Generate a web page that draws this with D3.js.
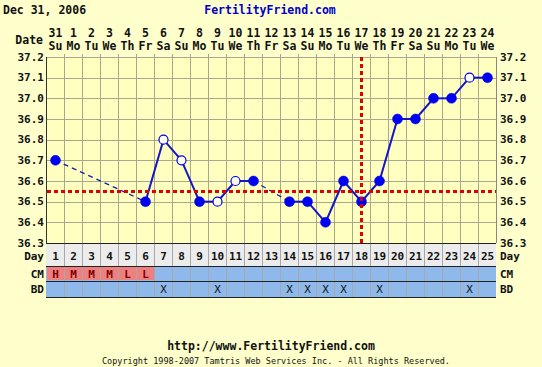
<!DOCTYPE html>
<html>
<head>
<meta charset="utf-8">
<script src="https://cdn.jsdelivr.net/npm/d3@7"></script>
<style>
  body { margin: 0; background: #ffffcc; }
  svg { display: block; font-family: "DejaVu Sans Mono", monospace; font-weight: bold; }
</style>
</head>
<body>
<div id="chart-area"></div>
<script>
// chart data
const days = [1, 2, 3, 4, 5, 6, 7, 8, 9, 10, 11, 12, 13, 14, 15, 16, 17, 18, 19, 20, 21, 22, 23, 24, 25];
const dates = ['31', '1', '2', '3', '4', '5', '6', '7', '8', '9', '10', '11', '12', '13', '14', '15', '16', '17', '18', '19', '20', '21', '22', '23', '24'];
const weekdays = ['Su', 'Mo', 'Tu', 'We', 'Th', 'Fr', 'Sa', 'Su', 'Mo', 'Tu', 'We', 'Th', 'Fr', 'Sa', 'Su', 'Mo', 'Tu', 'We', 'Th', 'Fr', 'Sa', 'Su', 'Mo', 'Tu', 'We'];
const temps = [36.7, null, null, null, null, 36.5, 36.8, 36.7, 36.5, 36.5, 36.6, 36.6, null, 36.5, 36.5, 36.4, 36.6, 36.5, 36.6, 36.9, 36.9, 37.0, 37.0, 37.1, 37.1];
const openDays = [7, 8, 10, 11, 24];
const cmValues = ['H', 'M', 'M', 'M', 'L', 'L', '', '', '', '', '', '', '', '', '', '', '', '', '', '', '', '', '', '', ''];
const bdDays = [7, 10, 14, 15, 16, 17, 19, 24];
const tempTicks = [36.3, 36.4, 36.5, 36.6, 36.7, 36.8, 36.9, 37.0, 37.1, 37.2];
const coverline = 36.55;
const ovulationDay = 18;

const W = 542, H = 367;
const plotLeft = 46, plotRight = 496, plotTop = 57, plotBottom = 243;

const svg = d3.select('#chart-area')
    .append('svg')
    .attr('width', W)
    .attr('height', H);

svg.append('rect').attr('width', W).attr('height', H).attr('fill', '#ffffcc');

const x = d3.scaleBand()
    .domain(days)
    .range([plotLeft, plotRight]);

const y = d3.scaleLinear()
    .domain([36.3, 37.2])
    .range([plotBottom, plotTop]);

// plot background
svg.append('rect')
    .attr('x', plotLeft).attr('y', plotTop)
    .attr('width', plotRight - plotLeft).attr('height', plotBottom - plotTop)
    .attr('fill', '#ffffbf');

// grid
const grid = svg.append('g').attr('stroke', '#a8a890').attr('stroke-width', 1);
days.slice(1).forEach(d => {
    grid.append('line')
        .attr('x1', x(d) + 0.5).attr('x2', x(d) + 0.5)
        .attr('y1', plotTop - 3).attr('y2', plotBottom);
});
tempTicks.forEach(t => {
    grid.append('line')
        .attr('x1', plotLeft).attr('x2', plotRight)
        .attr('y1', Math.round(y(t)) + 0.5).attr('y2', Math.round(y(t)) + 0.5);
});

// axis frame
svg.append('line')
    .attr('x1', plotLeft + 0.5).attr('x2', plotLeft + 0.5)
    .attr('y1', plotTop).attr('y2', 297)
    .attr('stroke', '#333').attr('stroke-width', 1);
svg.append('line')
    .attr('x1', plotRight + 0.5).attr('x2', plotRight + 0.5)
    .attr('y1', plotTop).attr('y2', plotBottom)
    .attr('stroke', '#888').attr('stroke-width', 1);

// axis labels (both sides)
const tickLabels = svg.append('g').attr('font-size', '11px').attr('fill', '#111');
tempTicks.forEach(t => {
    tickLabels.append('text')
        .attr('x', plotLeft - 2).attr('y', y(t) + 3.5)
        .attr('text-anchor', 'end')
        .text(t.toFixed(1));
    tickLabels.append('text')
        .attr('x', plotRight + 4).attr('y', y(t) + 3.5)
        .attr('text-anchor', 'start')
        .text(t.toFixed(1));
});

// header
svg.append('text').attr('x', 3).attr('y', 14)
    .attr('font-size', '11.5px').attr('fill', '#111')
    .text('Dec 31, 2006');
svg.append('text').attr('x', 270).attr('y', 14)
    .attr('text-anchor', 'middle')
    .attr('font-size', '11.5px').attr('fill', '#0000cc')
    .text('FertilityFriend.com');
svg.append('text').attr('x', 43).attr('y', 44)
    .attr('text-anchor', 'end')
    .attr('font-size', '11.5px').attr('fill', '#111')
    .text('Date');

const header = svg.append('g').attr('font-size', '11.5px').attr('fill', '#111').attr('text-anchor', 'middle');
days.forEach((d, i) => {
    header.append('text')
        .attr('x', x(d) + x.bandwidth() / 2 + 0.5).attr('y', 37)
        .text(dates[i]);
    header.append('text')
        .attr('x', x(d) + x.bandwidth() / 2 + 0.5).attr('y', 50)
        .text(weekdays[i]);
});

// bottom table
const rows = [
    {name: 'Day', y0: 243, y1: 266, fill: '#ececec'},
    {name: 'CM', y0: 266, y1: 281, fill: '#8fb9ea'},
    {name: 'BD', y0: 281, y1: 297, fill: '#8fb9ea'}
];
rows.forEach(r => {
    svg.append('rect')
        .attr('x', plotLeft).attr('y', r.y0)
        .attr('width', plotRight - plotLeft).attr('height', r.y1 - r.y0)
        .attr('fill', r.fill);
});

// CM colored cells
days.forEach((d, i) => {
    if (cmValues[i]) {
        svg.append('rect')
            .attr('x', x(d) + 1).attr('y', 267)
            .attr('width', x.bandwidth() - 1).attr('height', 13)
            .attr('fill', '#ee8080');
    }
});

// table cell lines
days.slice(1).forEach(d => {
    svg.append('line')
        .attr('x1', x(d) + 0.5).attr('x2', x(d) + 0.5)
        .attr('y1', 243).attr('y2', 297)
        .attr('stroke', '#a8a8a8');
});
[243, 266, 281, 297].forEach(yy => {
    svg.append('line')
        .attr('x1', plotLeft).attr('x2', plotRight)
        .attr('y1', yy + 0.5).attr('y2', yy + 0.5)
        .attr('stroke', '#222');
});

const table = svg.append('g').attr('font-size', '11px').attr('fill', '#111');
days.forEach((d, i) => {
    table.append('text')
        .attr('x', x(d) + x.bandwidth() / 2 + 0.5).attr('y', 260)
        .attr('text-anchor', 'middle')
        .text(d);
    if (cmValues[i]) {
        table.append('text')
            .attr('x', x(d) + x.bandwidth() / 2 + 0.5).attr('y', 278)
            .attr('text-anchor', 'middle')
            .attr('fill', '#7a0000')
            .text(cmValues[i]);
    }
});
bdDays.forEach(d => {
    table.append('text')
        .attr('x', x(d) + x.bandwidth() / 2 + 0.5).attr('y', 293)
        .attr('text-anchor', 'middle')
        .attr('font-weight', 'normal')
        .text('X');
});
[['Day', 260], ['CM', 278], ['BD', 293]].forEach(([label, yy]) => {
    table.append('text').attr('x', plotLeft - 2).attr('y', yy).attr('text-anchor', 'end').text(label);
    table.append('text').attr('x', plotRight + 4).attr('y', yy).attr('text-anchor', 'start').text(label);
});

// temperature line
const points = days.map((d, i) => ({day: d, temp: temps[i], open: openDays.includes(d)}))
    .filter(p => p.temp !== null);
const cx = d => x(d) + x.bandwidth() / 2 + 0.5;

for (let i = 1; i < points.length; i++) {
    const a = points[i - 1], b = points[i];
    const gap = b.day - a.day > 1;
    svg.append('line')
        .attr('x1', cx(a.day)).attr('y1', y(a.temp))
        .attr('x2', cx(b.day)).attr('y2', y(b.temp))
        .attr('stroke', gap ? '#1a1ab0' : '#1414c8')
        .attr('stroke-width', gap ? 1.3 : 2)
        .attr('stroke-dasharray', gap ? '5,4' : null);
}

svg.selectAll('circle.pt')
    .data(points)
    .enter().append('circle')
    .attr('class', 'pt')
    .attr('cx', p => cx(p.day))
    .attr('cy', p => y(p.temp))
    .attr('r', p => p.open ? 4.5 : 5)
    .attr('fill', p => p.open ? '#ffffff' : '#0000f0')
    .attr('stroke', '#0000f0')
    .attr('stroke-width', p => p.open ? 1.2 : 0.5);

// coverline and ovulation line
svg.append('line')
    .attr('x1', plotLeft + 1).attr('x2', plotRight)
    .attr('y1', Math.round(y(coverline)) + 0.5).attr('y2', Math.round(y(coverline)) + 0.5)
    .attr('stroke', '#e00000').attr('stroke-width', 3)
    .attr('stroke-dasharray', '4,3');
svg.append('line')
    .attr('x1', cx(ovulationDay)).attr('x2', cx(ovulationDay))
    .attr('y1', plotTop).attr('y2', plotBottom)
    .attr('stroke', '#e00000').attr('stroke-width', 3)
    .attr('stroke-dasharray', '4,3');

// footer
svg.append('text').attr('x', 271).attr('y', 350)
    .attr('text-anchor', 'middle')
    .attr('font-size', '11.5px').attr('fill', '#111')
    .text('http://www.FertilityFriend.com');
svg.append('text').attr('x', 276).attr('y', 364)
    .attr('text-anchor', 'middle')
    .attr('font-weight', 'normal')
    .attr('font-size', '8.5px').attr('fill', '#111')
    .text('Copyright 1998-2007 Tamtris Web Services Inc. - All Rights Reserved.');
</script>
</body>
</html>
